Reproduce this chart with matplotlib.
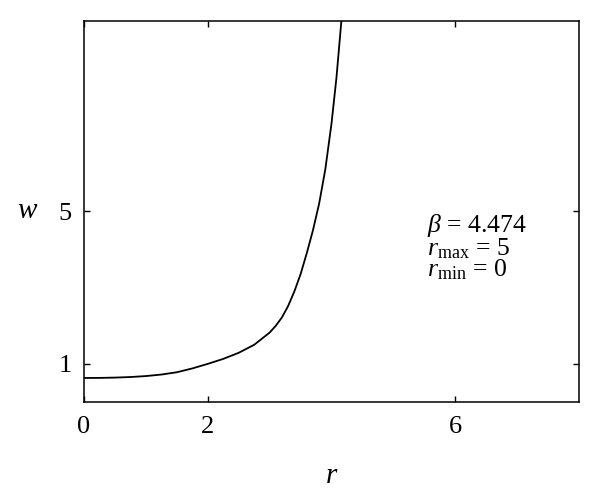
import matplotlib
matplotlib.use("Agg")
import matplotlib.pyplot as plt

plt.rcParams['font.family'] = ['Liberation Serif', 'DejaVu Serif']
plt.rcParams['mathtext.fontset'] = 'custom'
plt.rcParams['mathtext.rm'] = 'Liberation Serif'
plt.rcParams['mathtext.it'] = 'Liberation Serif:italic'

# curve
r = [0.0, 0.25, 0.5, 0.75, 1.0, 1.25, 1.5, 1.75, 2.0, 2.25, 2.5, 2.75,
     3.0, 3.1, 3.2, 3.3, 3.4, 3.5, 3.6, 3.7, 3.8, 3.9, 4.0, 4.08, 4.16]
w = [0.63, 0.632, 0.64, 0.655, 0.68, 0.72, 0.78, 0.88, 1.0, 1.13, 1.29, 1.5,
     1.82, 2.0, 2.22, 2.52, 2.9, 3.35, 3.9, 4.5, 5.2, 6.1, 7.3, 8.5, 10.0]

x_ticks = [0, 2, 6]
y_ticks = [1, 5]
info = "$\\beta$ = 4.474\n$r_{\\rm max}$ = 5\n$r_{\\rm min}$ = 0"

fig = plt.figure(figsize=(6, 4.96), dpi=100)
ax = fig.add_axes([0.14, 0.1895, 0.825, 0.769])

ax.plot(r, w, color='black', lw=1.3)

ax.set_xlim(0, 8)
ax.set_ylim(0, 10)
ax.set_xticks(x_ticks)
ax.set_yticks(y_ticks)
ax.tick_params(direction='in', length=4, width=1, top=True, right=True,
               labelsize=19)
ax.tick_params(axis='x', pad=10)
ax.tick_params(axis='y', pad=9)
for s in ax.spines.values():
    s.set_linewidth(1.1)

ax.set_xlabel('$r$', fontsize=21)
ax.xaxis.set_label_coords(0.5, -0.16)
ax.set_ylabel('$w$', fontsize=21, rotation=0, va='center', ha='center')
ax.yaxis.set_label_coords(-0.113, 0.5)

ax.text(5.55, 4.97, info, fontsize=18.5, va='top', ha='left', linespacing=0.82)

fig.savefig('out.png', dpi=100)
